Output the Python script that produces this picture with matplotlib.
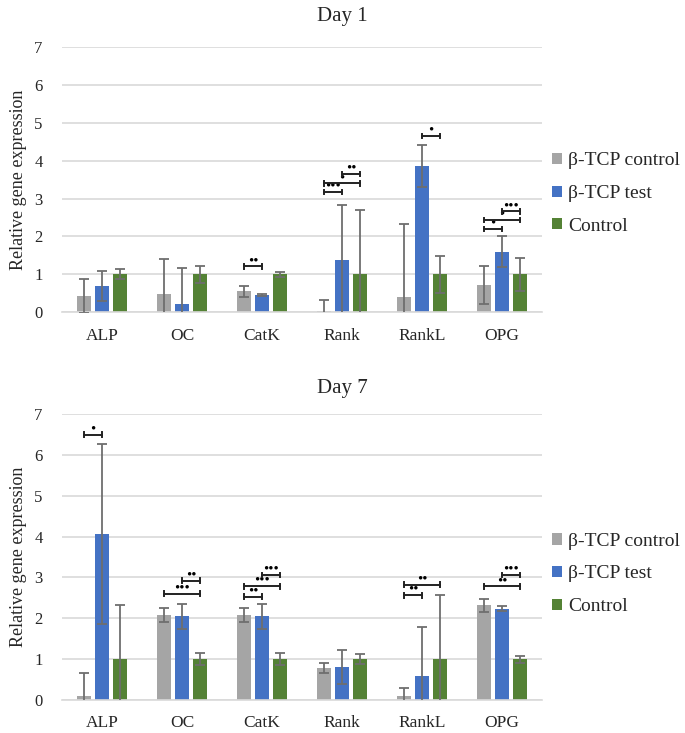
import numpy as np
import matplotlib.pyplot as plt

plt.rcParams['font.family'] = ['Liberation Serif', 'DejaVu Serif']

genes = ['ALP', 'OC', 'CatK', 'Rank', 'RankL', 'OPG']
groups = ['β-TCP control', 'β-TCP test', 'Control']
colors = ['#A5A5A5', '#4472C4', '#548235']

# Day 1 means and error values
d1_tcp_ctrl = [0.42, 0.48, 0.55, 0.03, 0.40, 0.72]
d1_tcp_test = [0.70, 0.21, 0.46, 1.38, 3.85, 1.60]
d1_control = [1.0, 1.0, 1.0, 1.0, 1.0, 1.0]
d1_tcp_ctrl_err = [0.45, 0.93, 0.14, 0.30, 1.94, 0.50]
d1_tcp_test_err = [0.40, 0.96, 0.02, 1.44, 0.55, 0.41]
d1_control_err = [0.13, 0.23, 0.06, 1.69, 0.48, 0.43]

# Day 7 means and error values
d7_tcp_ctrl = [0.10, 2.08, 2.08, 0.78, 0.10, 2.32]
d7_tcp_test = [4.07, 2.05, 2.05, 0.81, 0.58, 2.23]
d7_control = [1.0, 1.0, 1.0, 1.0, 1.0, 1.0]
d7_tcp_ctrl_err = [0.55, 0.18, 0.18, 0.12, 0.19, 0.16]
d7_tcp_test_err = [2.20, 0.30, 0.30, 0.42, 1.20, 0.06]
d7_control_err = [1.33, 0.14, 0.14, 0.13, 1.57, 0.09]

# significance brackets: (gene index, from bar, to bar, height, stars)
d1_sig = [(2, 0, 1, 1.21, 2),
          (3, 0, 1, 3.17, 3), (3, 0, 2, 3.40, 1), (3, 1, 2, 3.65, 2),
          (4, 1, 2, 4.65, 1),
          (5, 0, 1, 2.20, 1), (5, 0, 2, 2.43, 1), (5, 1, 2, 2.66, 3)]
d7_sig = [(0, 0, 1, 6.50, 1),
          (1, 0, 2, 2.60, 3), (1, 1, 2, 2.92, 2),
          (2, 0, 1, 2.53, 2), (2, 0, 2, 2.79, 3), (2, 1, 2, 3.06, 3),
          (4, 0, 1, 2.57, 2), (4, 0, 2, 2.82, 2),
          (5, 0, 2, 2.78, 2), (5, 1, 2, 3.06, 3)]

days = [
    ('Day 1', [d1_tcp_ctrl, d1_tcp_test, d1_control],
     [d1_tcp_ctrl_err, d1_tcp_test_err, d1_control_err], d1_sig),
    ('Day 7', [d7_tcp_ctrl, d7_tcp_test, d7_control],
     [d7_tcp_ctrl_err, d7_tcp_test_err, d7_control_err], d7_sig),
]

fig = plt.figure(figsize=(6.85, 7.33), dpi=100)
ax_pos = [[0.0905, 0.574, 0.7007, 0.362], [0.0905, 0.045, 0.7007, 0.390]]
title_y = [0.978, 0.4695]
legend_y = [0.736, 0.217]

x = np.arange(len(genes))
width = 0.175
offsets = [-0.225, 0.0, 0.225]
txt = '#262626'

for k, (title, means, errs, sig) in enumerate(days):
    ax = fig.add_axes(ax_pos[k])
    for i in range(3):
        ax.bar(x + offsets[i], means[i], width, color=colors[i], label=groups[i], zorder=2)
        ax.errorbar(x + offsets[i], means[i], yerr=errs[i], fmt='none',
                    ecolor='#6E6E6E', elinewidth=1.3, capsize=3.5, capthick=1.3, zorder=3)

    # brackets with stars
    for g, a, b, h, n in sig:
        x0 = g + offsets[a]
        x1 = g + offsets[b]
        ax.plot([x0, x1], [h, h], color='#222222', lw=1.4, zorder=4)
        ax.plot([x0, x0], [h - 0.06, h + 0.06], color='#222222', lw=1.4, zorder=4)
        ax.plot([x1, x1], [h - 0.06, h + 0.06], color='#222222', lw=1.4, zorder=4)
        ax.text((x0 + x1) / 2, h - 0.02, '•' * n, ha='center', va='bottom',
                fontsize=10.5, color='black', zorder=4)

    ax.set_xlim(-0.5, 5.5)
    ax.set_ylim(0, 7)
    ax.set_yticks(np.arange(0, 8, 1))
    ax.set_xticks(x)
    ax.set_xticklabels(genes)
    ax.tick_params(axis='both', length=0, colors=txt)
    ax.tick_params(axis='x', pad=11, labelsize=12.5)
    ax.tick_params(axis='y', pad=14, labelsize=12)
    ax.grid(axis='y', color='#D9D9D9', lw=1.2, zorder=0)
    for side in ['top', 'right', 'left']:
        ax.spines[side].set_visible(False)
    ax.spines['bottom'].set_color('#D9D9D9')
    ax.spines['bottom'].set_linewidth(1.2)
    ax.set_ylabel('Relative gene expression', fontsize=13, color=txt, labelpad=5)
    fig.text(0.5, title_y[k], title, ha='center', va='center', fontsize=15, color=txt)

    ax.legend(loc='center left', bbox_to_anchor=(0.795, legend_y[k]),
              bbox_transform=fig.transFigure, frameon=False, fontsize=14,
              handlelength=0.5, handleheight=0.5, handletextpad=0.3,
              labelspacing=0.8, borderaxespad=0, labelcolor=txt)

plt.savefig('out.png', dpi=100)
